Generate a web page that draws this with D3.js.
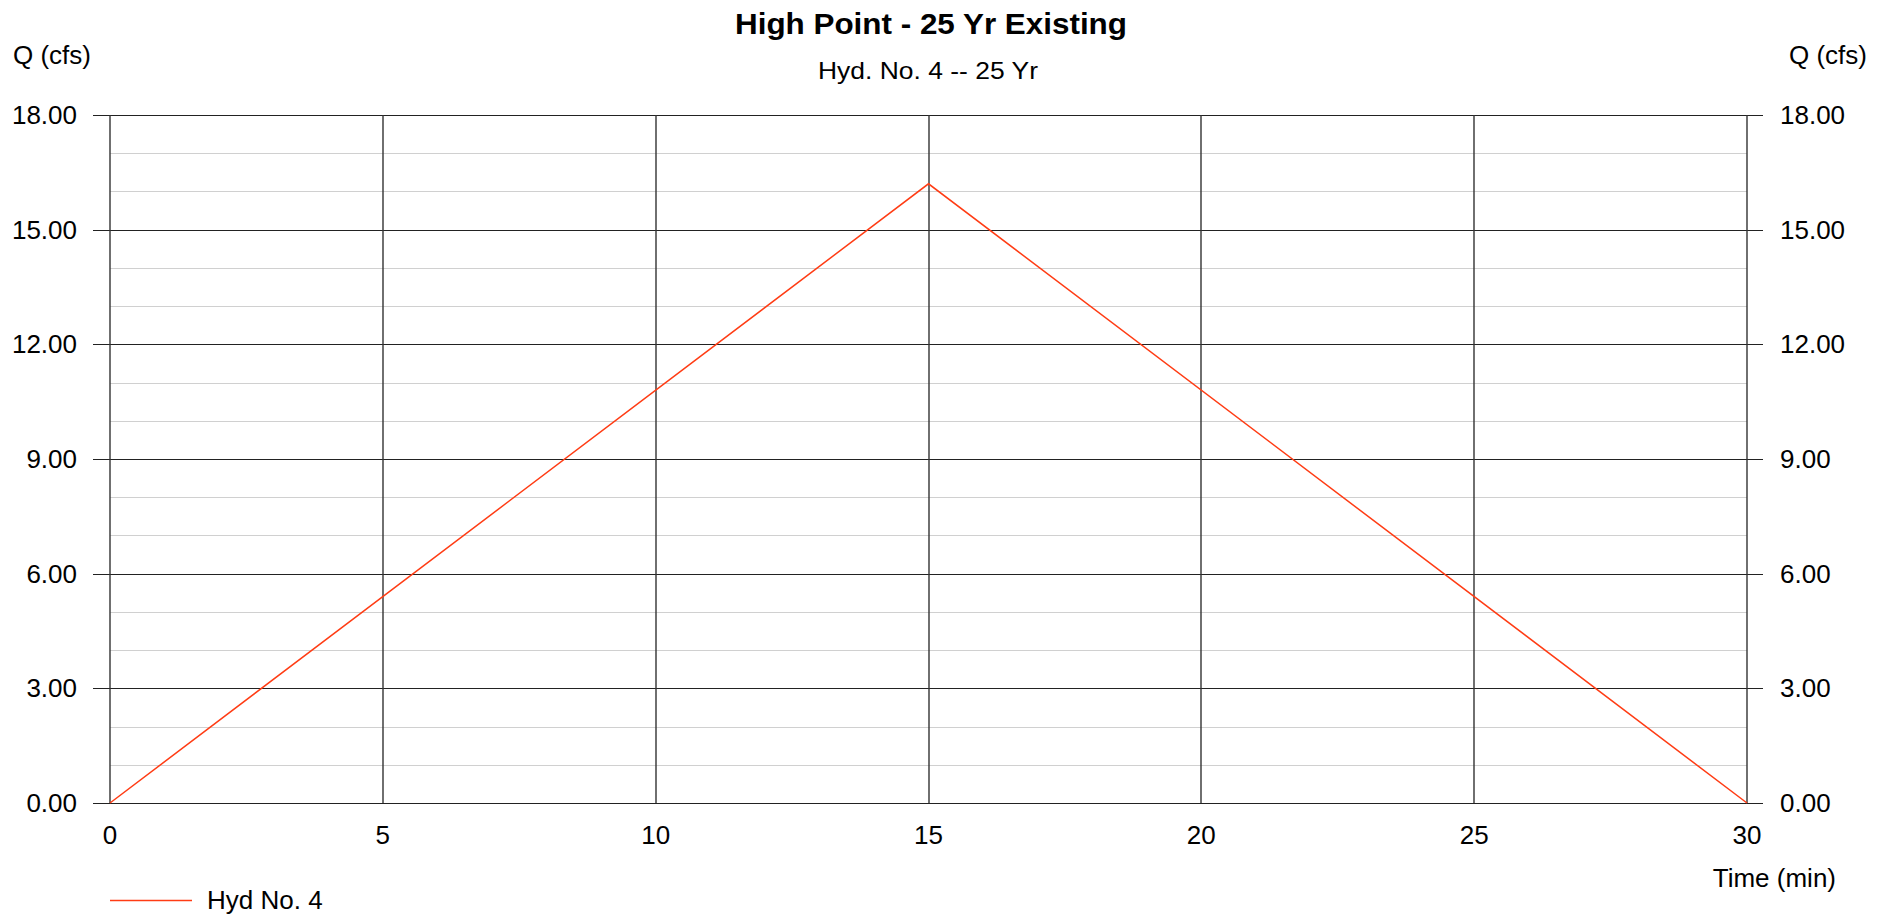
<!DOCTYPE html>
<html>
<head>
<meta charset="utf-8">
<script src="https://cdn.jsdelivr.net/npm/d3@7"></script>
<style>
  html, body { margin: 0; padding: 0; background: #fff; }
  svg { display: block; font-family: "Liberation Sans", Arial, sans-serif; }
</style>
</head>
<body>
<script>
// hydrograph values (min, cfs)
const timeMin = [0, 15, 30];
const flowCfs = [0, 16.2, 0];
const xTicks = [0, 5, 10, 15, 20, 25, 30];
const yTicks = [0, 3, 6, 9, 12, 15, 18];
const yMinor = d3.range(0, 18.01, 1);
const title = 'High Point - 25 Yr Existing';
const subtitle = 'Hyd. No. 4 -- 25 Yr';
const seriesName = 'Hyd No. 4';

const W = 1881, H = 917;
const m = { left: 110, right: W - 1747, top: 115, bottom: H - 803 };
const svg = d3.select('body').append('svg').attr('width', W).attr('height', H);

const x = d3.scaleLinear().domain([0, 30]).range([m.left, W - m.right]);
const y = d3.scaleLinear().domain([0, 18]).range([H - m.bottom, m.top]);
const fs = 26;

// minor grid
svg.append('g').selectAll('line').data(yMinor.filter(v => v % 3 !== 0)).join('line')
  .attr('x1', x(0)).attr('x2', x(30))
  .attr('y1', d => Math.round(y(d)) + 0.5).attr('y2', d => Math.round(y(d)) + 0.5)
  .attr('stroke', '#d0d0d0').attr('stroke-width', 1);

// major horizontal grid, with ticks out both sides
svg.append('g').selectAll('line').data(yTicks).join('line')
  .attr('x1', x(0) - 17).attr('x2', x(30) + 16)
  .attr('y1', d => Math.round(y(d)) + 0.5).attr('y2', d => Math.round(y(d)) + 0.5)
  .attr('stroke', '#222').attr('stroke-width', 1);

// vertical grid
svg.append('g').selectAll('line').data(xTicks).join('line')
  .attr('x1', d => Math.round(x(d))).attr('x2', d => Math.round(x(d)))
  .attr('y1', y(18)).attr('y2', y(0))
  .attr('stroke', '#333').attr('stroke-width', 1.4);

const fmt = d3.format('.2f');
svg.append('g').selectAll('text').data(yTicks).join('text')
  .attr('x', x(0) - 33).attr('y', d => y(d)).attr('dy', '0.35em')
  .attr('text-anchor', 'end').attr('font-size', fs).text(fmt);
svg.append('g').selectAll('text').data(yTicks).join('text')
  .attr('x', x(30) + 33).attr('y', d => y(d)).attr('dy', '0.35em')
  .attr('text-anchor', 'start').attr('font-size', fs).text(fmt);
svg.append('g').selectAll('text').data(xTicks).join('text')
  .attr('x', d => x(d)).attr('y', y(0) + 41)
  .attr('text-anchor', 'middle').attr('font-size', fs).text(d => d);

// axis titles
svg.append('text').attr('x', 13).attr('y', 64).attr('font-size', fs).text('Q (cfs)');
svg.append('text').attr('x', 1867).attr('y', 64).attr('text-anchor', 'end').attr('font-size', fs).text('Q (cfs)');
svg.append('text').attr('x', 1836).attr('y', 887).attr('text-anchor', 'end').attr('font-size', fs).text('Time (min)');

// titles
svg.append('text').attr('x', 931).attr('y', 34).attr('text-anchor', 'middle')
  .attr('font-size', 30).attr('font-weight', 'bold')
  .attr('textLength', 392).attr('lengthAdjust', 'spacingAndGlyphs').text(title);
svg.append('text').attr('x', 928).attr('y', 79).attr('text-anchor', 'middle')
  .attr('font-size', 24)
  .attr('textLength', 220).attr('lengthAdjust', 'spacingAndGlyphs').text(subtitle);

// series
const line = d3.line().x((d, i) => x(timeMin[i])).y(d => y(d));
svg.append('path').datum(flowCfs).attr('d', line)
  .attr('fill', 'none').attr('stroke', '#ff3c14').attr('stroke-width', 1.5);

// legend
svg.append('line').attr('x1', 110).attr('x2', 192).attr('y1', 900.5).attr('y2', 900.5)
  .attr('stroke', '#ff3c14').attr('stroke-width', 1.5);
svg.append('text').attr('x', 207).attr('y', 909).attr('font-size', fs).text(seriesName);
</script>
</body>
</html>
